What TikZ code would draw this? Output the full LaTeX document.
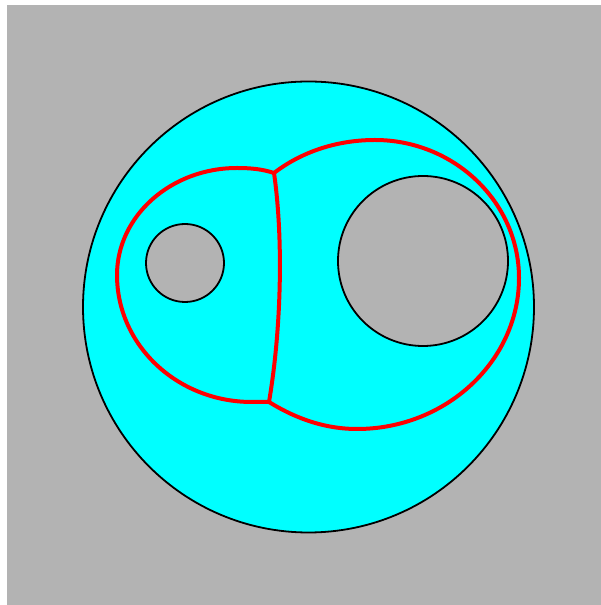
\documentclass[tikz,border=0pt]{standalone}
\usepackage{xcolor}
\usepackage{tikz}
\definecolor{bggray}{RGB}{179,179,179}
\definecolor{aqua}{RGB}{0,255,255}
\tikzset{
  rim/.style={draw=black,line width=1.8pt},
  seam/.style={draw=red,line width=4pt,line join=round}
}

\begin{document}
\begin{tikzpicture}[x=1pt,y=1pt]
  \useasboundingbox (0,0) rectangle (601,605);
  \fill[white] (0,0) rectangle (601,605);
  \fill[bggray] (7,0) rectangle (601,600);

  % disc with two holes
  \fill[aqua,even odd rule] (308.5,298) circle (225.5)
    (185,342) circle (39) (423,344) circle (85);
  \draw[rim] (308.5,298) circle (225.5);
  \draw[rim] (185,342) circle (39);
  \draw[rim] (423,344) circle (85);

  \coordinate (jtop) at (274,432);
  \coordinate (jbot) at (269,203);

  % left loop
  \draw[seam] (jtop) .. controls (262,436) and (250,437) .. (237,437)
    .. controls (171,437) and (117,389) .. (117,330)
    .. controls (117,260) and (177,203) .. (252,203) -- (jbot);
  % middle seam
  \draw[seam] (jtop) .. controls (283,370) and (282,280) .. (jbot);
  % right loop
  \draw[seam] (jtop) .. controls (300,452) and (335,465) .. (375,465)
    .. controls (454,465) and (519,403) .. (519,327)
    .. controls (519,244) and (446,176) .. (357,176)
    .. controls (320,176) and (290,190) .. (jbot);
\end{tikzpicture}
\end{document}
